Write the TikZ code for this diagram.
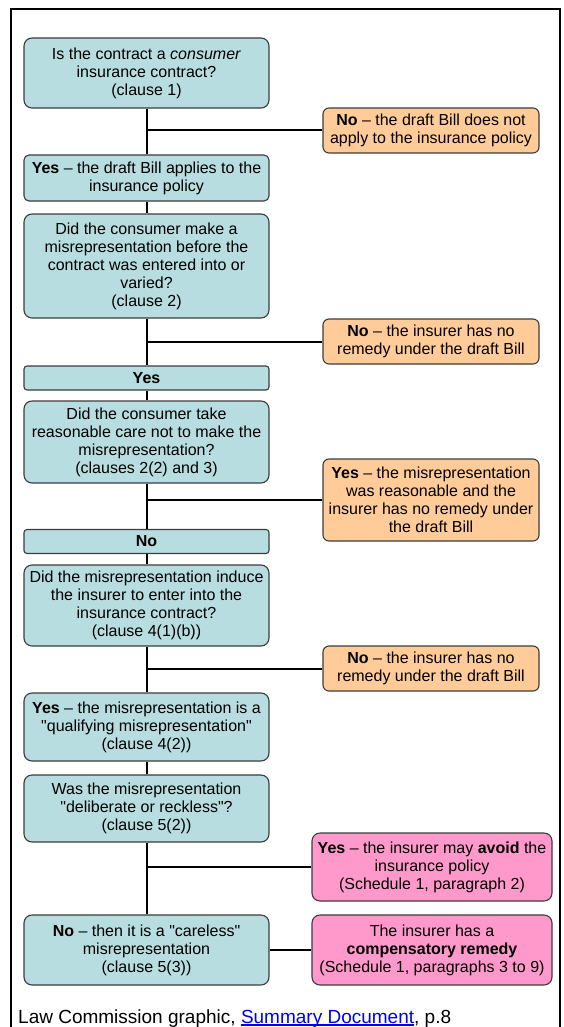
\documentclass[tikz,border=0pt]{standalone}
\usepackage{fontspec}
\setmainfont{Liberation Sans}
\definecolor{qfill}{HTML}{B7DDE0}
\definecolor{nofill}{HTML}{FFCC99}
\definecolor{remfill}{HTML}{FF99CC}
\definecolor{boxedge}{HTML}{3C3C3C}
\definecolor{linkblue}{HTML}{0000EE}
\newcommand{\qq}{\textquotedbl}
\newcommand{\linkul}[1]{\setbox0=\hbox{#1}\rlap{\rule[-2.6pt]{\wd0}{1.3pt}}\box0}
\tikzset{
  flowbox/.style={draw=boxedge,line width=1.1pt,align=center,inner sep=2pt,
    font=\fontsize{16}{18}\selectfont},
  qbox/.style={flowbox,fill=qfill,rounded corners=8pt,minimum width=245pt},
  bar/.style={flowbox,fill=qfill,rounded corners=3pt,minimum width=245pt,minimum height=24pt},
  nobox/.style={flowbox,fill=nofill,rounded corners=6pt,minimum width=216pt},
  rembox/.style={flowbox,fill=remfill,rounded corners=8pt,minimum width=240pt},
  link/.style={line width=2pt,black}
}
\begin{document}
\begin{tikzpicture}[x=1pt,y=-1pt]
\useasboundingbox (0,0) rectangle (564,1027);
\draw[line width=1.5pt] (11,1040)--(11,9)--(560,9)--(560,1040);
%left column
\node[qbox,minimum height=70pt] (clause1) at (146.5,73)
  {Is the contract a \textit{consumer}\\insurance contract?\\(clause 1)};
\node[qbox,rounded corners=5pt,minimum height=46pt] (applies) at (146.5,178)
  {\textbf{Yes} -- the draft Bill applies to the\\insurance policy};
\node[qbox,minimum height=104pt] (clause2) at (146.5,266)
  {Did the consumer make a\\misrepresentation before the\\contract was entered into or\\varied?\\(clause 2)};
\node[bar] (yesbar) at (146.5,378) {\textbf{Yes}};
\node[qbox,minimum height=82pt] (clause3) at (146.5,442)
  {Did the consumer take\\reasonable care not to make the\\misrepresentation?\\(clauses 2(2) and 3)};
\node[bar] (nobar) at (146.5,541.5) {\textbf{No}};
\node[qbox,minimum height=81pt] (clause4) at (146.5,605.5)
  {Did the misrepresentation induce\\the insurer to enter into the\\insurance contract?\\(clause 4(1)(b))};
\node[qbox,minimum height=68pt] (qualify) at (146.5,727)
  {\textbf{Yes} -- the misrepresentation is a\\\qq qualifying misrepresentation\qq\\(clause 4(2))};
\node[qbox,minimum height=67pt] (clause5) at (146.5,808.5)
  {Was the misrepresentation\\\qq deliberate or reckless\qq?\\(clause 5(2))};
\node[qbox,minimum height=70pt] (careless) at (146.5,950)
  {\textbf{No} -- then it is a \qq careless\qq\\misrepresentation\\(clause 5(3))};
%right column
\node[nobox,minimum height=45pt] (notapply) at (431,130.5)
  {\textbf{No} -- the draft Bill does not\\apply to the insurance policy};
\node[nobox,minimum height=45pt] (noremedy1) at (431,341.5)
  {\textbf{No} -- the insurer has no\\remedy under the draft Bill};
\node[nobox,minimum height=82pt] (reasonable) at (431,500)
  {\textbf{Yes} -- the misrepresentation\\was reasonable and the\\insurer has no remedy under\\the draft Bill};
\node[nobox,minimum height=45pt] (noremedy2) at (431,668.5)
  {\textbf{No} -- the insurer has no\\remedy under the draft Bill};
\node[rembox,minimum height=68pt] (avoid) at (432,867)
  {\textbf{Yes} -- the insurer may \textbf{avoid} the\\insurance policy\\(Schedule 1, paragraph 2)};
\node[rembox,minimum height=70pt] (compensate) at (432,950)
  {The insurer has a\\\textbf{compensatory remedy}\\(Schedule 1, paragraphs 3 to 9)};
%connectors
\draw[link] (clause1)--(applies);
\draw[link] (applies)--(clause2);
\draw[link] (clause2)--(yesbar);
\draw[link] (yesbar)--(clause3);
\draw[link] (clause3)--(nobar);
\draw[link] (nobar)--(clause4);
\draw[link] (clause4)--(qualify);
\draw[link] (qualify)--(clause5);
\draw[link] (clause5)--(careless);
\draw[link] (careless)--(compensate);
\draw[link] (clause1.south |- notapply.west)--(notapply.west);
\draw[link] (clause2.south |- noremedy1.west)--(noremedy1.west);
\draw[link] (clause3.south |- reasonable.west)--(reasonable.west);
\draw[link] (clause4.south |- noremedy2.west)--(noremedy2.west);
\draw[link] (clause5.south |- avoid.west)--(avoid.west);
%source
\node[anchor=base west,inner sep=0pt,font=\fontsize{19}{22}\selectfont] (source) at (18,1023)
  {Law Commission graphic, {\color{linkblue}\linkul{Summary Document}}, p.8};
\end{tikzpicture}
\end{document}
